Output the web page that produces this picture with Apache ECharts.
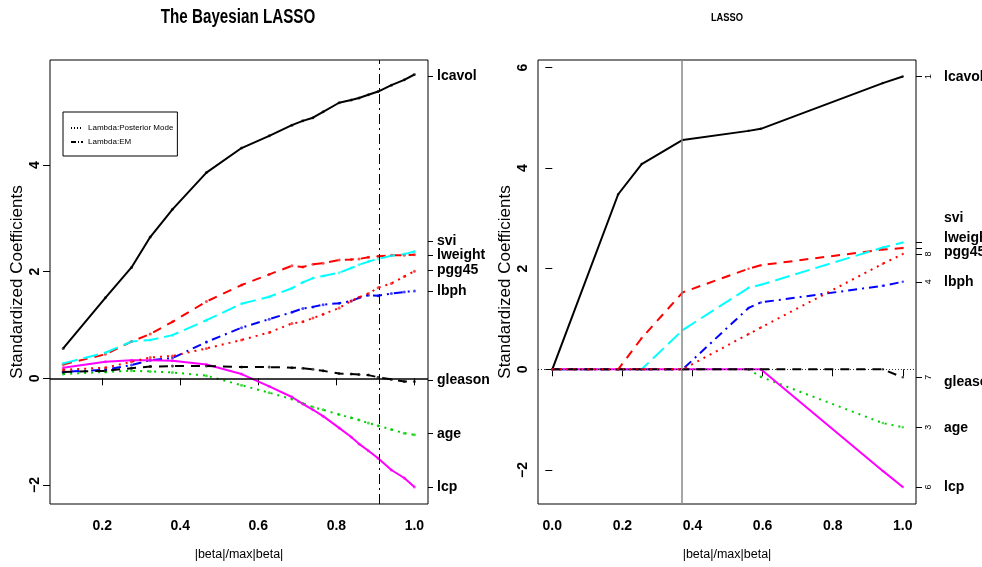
<!DOCTYPE html>
<html><head><meta charset="utf-8">
<script src="https://cdn.jsdelivr.net/npm/echarts@6/dist/echarts.min.js"></script>
<style>html,body{margin:0;padding:0;background:#fff}#c{width:982px;height:567px}</style>
</head><body><div id="c"></div><script>
// ---------- data ----------
const varNames = ['lcavol','lweight','age','lbph','svi','lcp','gleason','pgg45'];

// Bayesian LASSO paths (left)
const blassoX       = [0.10, 0.208, 0.275, 0.323, 0.38, 0.467, 0.557, 0.628, 0.686, 0.714, 0.74, 0.766, 0.807, 0.838, 0.858, 0.882, 0.907, 0.941, 0.974, 1.0];
const blassoLcavol  = [0.56, 1.51, 2.08, 2.65, 3.17, 3.86, 4.32, 4.55, 4.75, 4.83, 4.89, 5.00, 5.17, 5.22, 5.26, 5.32, 5.38, 5.50, 5.60, 5.70];
const blassoLweight = [0.26, 0.45, 0.69, 0.83, 1.06, 1.44, 1.75, 1.95, 2.11, 2.09, 2.14, 2.16, 2.22, 2.23, 2.24, 2.27, 2.29, 2.31, 2.31, 2.32];
const blassoAge     = [0.08, 0.12, 0.14, 0.13, 0.11, 0.05, -0.13, -0.27, -0.39, -0.47, -0.54, -0.59, -0.68, -0.74, -0.78, -0.84, -0.89, -0.96, -1.03, -1.06];
const blassoLbph    = [0.12, 0.16, 0.25, 0.34, 0.38, 0.68, 0.95, 1.11, 1.24, 1.31, 1.34, 1.38, 1.41, 1.45, 1.51, 1.56, 1.55, 1.59, 1.62, 1.64];
const blassoSvi     = [0.28, 0.48, 0.69, 0.72, 0.81, 1.09, 1.40, 1.53, 1.69, 1.80, 1.88, 1.92, 1.98, 2.07, 2.13, 2.19, 2.24, 2.30, 2.33, 2.38];
const blassoLcp     = [0.20, 0.31, 0.34, 0.34, 0.33, 0.26, 0.08, -0.15, -0.35, -0.48, -0.59, -0.71, -0.93, -1.10, -1.23, -1.36, -1.50, -1.72, -1.87, -2.04];
const blassoGleason = [0.12, 0.14, 0.19, 0.22, 0.23, 0.23, 0.21, 0.21, 0.20, 0.19, 0.17, 0.14, 0.09, 0.08, 0.07, 0.06, 0.02, -0.02, -0.06, -0.06];
const blassoPgg45   = [0.16, 0.20, 0.31, 0.39, 0.42, 0.56, 0.72, 0.86, 1.03, 1.06, 1.13, 1.20, 1.32, 1.45, 1.52, 1.59, 1.70, 1.78, 1.91, 2.01];
const blassoNameAt  = [5.66, 2.31, -1.04, 1.64, 2.58, -2.04, -0.03, 2.03];
const blassoEM = 0.905;
const legendNames = ['Lambda:Posterior Mode', 'Lambda:EM'];

// LASSO (lars) paths (right)
const lassoX       = [0, 0.188, 0.255, 0.372, 0.56, 0.595, 0.943, 1.0];
const lassoLcavol  = [0, 3.48, 4.08, 4.56, 4.74, 4.78, 5.69, 5.82];
const lassoLweight = [0, 0, 0.62, 1.53, 2.00, 2.07, 2.38, 2.41];
const lassoAge     = [0, 0, 0, 0, 0, -0.15, -1.07, -1.15];
const lassoLbph    = [0, 0, 0, 0, 1.22, 1.33, 1.66, 1.74];
const lassoSvi     = [0, 0, 0, 0.78, 1.62, 1.68, 2.42, 2.52];
const lassoLcp     = [0, 0, 0, 0, 0, 0, -2.02, -2.34];
const lassoGleason = [0, 0, 0, 0, 0, 0, 0, -0.16];
const lassoPgg45   = [0, 0, 0, 0, 0.70, 0.83, 2.10, 2.29];
const lassoNums    = ['1','2','3','4','5','6','7','8'];
const lassoNumsHidden = ['2','5'];
const lassoNameAt  = [5.81, 2.61, -1.17, 1.74, 3.01, -2.34, -0.25, 2.33];
const lassoCut = 0.372;

// ticks
const xTicksL = [0.2, 0.4, 0.6, 0.8, 1.0];
const yTicksL = [-2, 0, 2, 4];
const xTicksR = [0, 0.2, 0.4, 0.6, 0.8, 1.0];
const yTicksR = [-2, 0, 2, 4, 6];

// ---------- styles ----------
const FN = "'Liberation Sans',Arial,Helvetica,sans-serif";
const colors = ['#000000','#FF0000','#00CD00','#0000FF','#00FFFF','#FF00FF','#000000','#FF0000'];
const dashes = ['solid',[9,7],[2,5],[2,5,9,5],[15,6],'solid',[9,7],[2,5]];
const L = {xmin:0.0662, xmax:1.0348, ymin:-2.358, ymax:5.972};
const R = {xmin:-0.0408, xmax:1.0377, ymin:-2.678, ymax:6.149};

const blassoSeries = [blassoLcavol, blassoLweight, blassoAge, blassoLbph, blassoSvi, blassoLcp, blassoGleason, blassoPgg45];
const lassoSeries  = [lassoLcavol, lassoLweight, lassoAge, lassoLbph, lassoSvi, lassoLcp, lassoGleason, lassoPgg45];
const lassoFinal = lassoSeries.map(a => a[a.length - 1]);

function nearest(arr, v){ let b = 0; for (let i = 1; i < arr.length; i++) if (Math.abs(arr[i]-v) < Math.abs(arr[b]-v)) b = i; return b; }
const minus = v => (v < 0 ? '\u2212' + Math.abs(v) : String(v));

const tickStyle = {lineStyle:{color:'#000', width:1}};
const boldLab = {color:'#000', fontFamily:FN, fontWeight:'bold', fontSize:14};

const series = [];
blassoSeries.forEach((arr, k) => {
  series.push({
    type:'line', name:varNames[k], xAxisIndex:0, yAxisIndex:0,
    data: blassoX.map((x, i) => [x, arr[i]]),
    symbol:'circle', symbolSize:3, showSymbol:true,
    itemStyle:{color:colors[k], opacity:0.7},
    lineStyle:{color:colors[k], width:2, type:dashes[k]},
    silent:true, z:3
  });
});
lassoSeries.forEach((arr, k) => {
  series.push({
    type:'line', name:'L' + varNames[k], xAxisIndex:1, yAxisIndex:2,
    data: lassoX.map((x, i) => [x, arr[i]]),
    symbol:'circle', symbolSize:2.5, showSymbol:true,
    itemStyle:{color:colors[k], opacity:0.7},
    lineStyle:{color:colors[k], width:2, type:dashes[k]},
    silent:true, z:3
  });
});
const noLab = {show:false};
// zero line + EM line (left)
series.push({
  type:'line', name:legendNames[1], xAxisIndex:0, yAxisIndex:0, data:[], symbol:'none',
  lineStyle:{color:'#000', width:1, type:[5,2,1,2]}, itemStyle:{color:'#000', opacity:0},
  markLine:{silent:true, symbol:['none','none'], label:noLab, animation:false,
    data:[{xAxis:blassoEM, lineStyle:{color:'#000', width:1, type:[10,4,2,4], opacity:1}},
          {yAxis:0, lineStyle:{color:'#000', width:1.5, type:'solid', opacity:1}}]}
});
series.push({
  type:'line', name:legendNames[0], xAxisIndex:0, yAxisIndex:0, data:[], symbol:'none',
  lineStyle:{color:'#000', width:1, type:[1,2]}, itemStyle:{color:'#000', opacity:0}
});
// right plot reference lines
series.push({
  type:'line', name:'refR', xAxisIndex:1, yAxisIndex:2, data:[], symbol:'none',
  markLine:{silent:true, symbol:['none','none'], label:noLab, animation:false,
    data:[{xAxis:lassoCut, lineStyle:{color:'#888', width:1.5, type:'solid'}},
          {yAxis:0, lineStyle:{color:'#000', width:0.8, type:[1,2]}}]}
});

const gridBase = {width:378, height:444, top:60, show:true, borderColor:'#000', borderWidth:1,
  backgroundColor:'transparent', containLabel:false, outerBoundsMode:'none'};

const option = {
  animation:false,
  backgroundColor:'#fff',
  grid:[
    Object.assign({left:50}, gridBase),
    Object.assign({left:538}, gridBase)
  ],
  legend:{
    data:legendNames, left:63, top:112, orient:'vertical', selectedMode:false,
    padding:[12,4,10,7], itemGap:6, itemWidth:12, itemHeight:10,
    itemStyle:{opacity:0},
    borderColor:'#000', borderWidth:1, backgroundColor:'#fff',
    textStyle:{fontFamily:FN, fontSize:8, color:'#000'}
  },
  xAxis:[
    {gridIndex:0, type:'value', min:L.xmin, max:L.xmax, axisLine:{show:false}, splitLine:{show:false},
     axisTick:{show:true, length:7, customValues:xTicksL, ...tickStyle},
     axisLabel:{customValues:xTicksL, margin:15, formatter:v=>v.toFixed(1), ...boldLab},
     name:'|beta|/max|beta|', nameLocation:'middle', nameGap:44,
     nameTextStyle:{fontFamily:FN, fontSize:12.5, color:'#000'}},
    {gridIndex:1, type:'value', min:R.xmin, max:R.xmax, axisLine:{show:false}, splitLine:{show:false},
     axisTick:{show:true, length:7, customValues:xTicksR, ...tickStyle},
     axisLabel:{customValues:xTicksR, margin:15, formatter:v=>v.toFixed(1), ...boldLab},
     name:'|beta|/max|beta|', nameLocation:'middle', nameGap:44,
     nameTextStyle:{fontFamily:FN, fontSize:12.5, color:'#000'}}
  ],
  yAxis:[
    {gridIndex:0, type:'value', min:L.ymin, max:L.ymax, position:'left', axisLine:{show:false}, splitLine:{show:false},
     axisTick:{show:true, length:7, customValues:yTicksL, ...tickStyle},
     axisLabel:{customValues:yTicksL, rotate:90, margin:8, formatter:minus, ...boldLab},
     name:'Standardized Coefficients', nameLocation:'middle', nameGap:24, nameRotate:90,
     nameTextStyle:{fontFamily:FN, fontSize:17, color:'#000'}},
    {gridIndex:0, type:'value', min:L.ymin, max:L.ymax, position:'right', axisLine:{show:false}, splitLine:{show:false},
     axisTick:{show:true, length:5, customValues:blassoNameAt, ...tickStyle},
     axisLabel:{customValues:blassoNameAt, margin:9, formatter:v=>varNames[nearest(blassoNameAt, v)], ...boldLab}},
    {gridIndex:1, type:'value', min:R.ymin, max:R.ymax, position:'left', axisLine:{show:false}, splitLine:{show:false},
     axisTick:{show:true, length:7, customValues:yTicksR, ...tickStyle},
     axisLabel:{customValues:yTicksR, rotate:90, margin:8, formatter:minus, ...boldLab},
     name:'Standardized Coefficients', nameLocation:'middle', nameGap:24, nameRotate:90,
     nameTextStyle:{fontFamily:FN, fontSize:17, color:'#000'}},
    {gridIndex:1, type:'value', min:R.ymin, max:R.ymax, position:'right', axisLine:{show:false}, splitLine:{show:false},
     axisTick:{show:true, length:6, customValues:lassoFinal, ...tickStyle},
     axisLabel:{customValues:lassoFinal.filter((v,i)=>lassoNumsHidden.indexOf(lassoNums[i]) < 0),
       rotate:90, margin:8, formatter:v=>lassoNums[nearest(lassoFinal, v)],
       color:'#000', fontFamily:FN, fontSize:9}},
    {gridIndex:1, type:'value', min:R.ymin, max:R.ymax, position:'right', axisLine:{show:false}, splitLine:{show:false},
     axisTick:{show:false},
     axisLabel:{customValues:lassoNameAt, margin:28, formatter:v=>varNames[nearest(lassoNameAt, v)], ...boldLab}}
  ],
  graphic:[
    {type:'text', x:238, y:17, scaleX:0.76, style:{text:'The Bayesian LASSO', fontFamily:FN, fontWeight:'bold', fontSize:20, fill:'#000', textAlign:'center', textVerticalAlign:'middle'}},
    {type:'text', x:727, y:18, scaleX:0.85, style:{text:'LASSO', fontFamily:FN, fontWeight:'bold', fontSize:11, fill:'#000', textAlign:'center', textVerticalAlign:'middle'}}
  ],
  series: series
};
echarts.init(document.getElementById('c'), null, {renderer:'canvas'}).setOption(option);
</script></body></html>
